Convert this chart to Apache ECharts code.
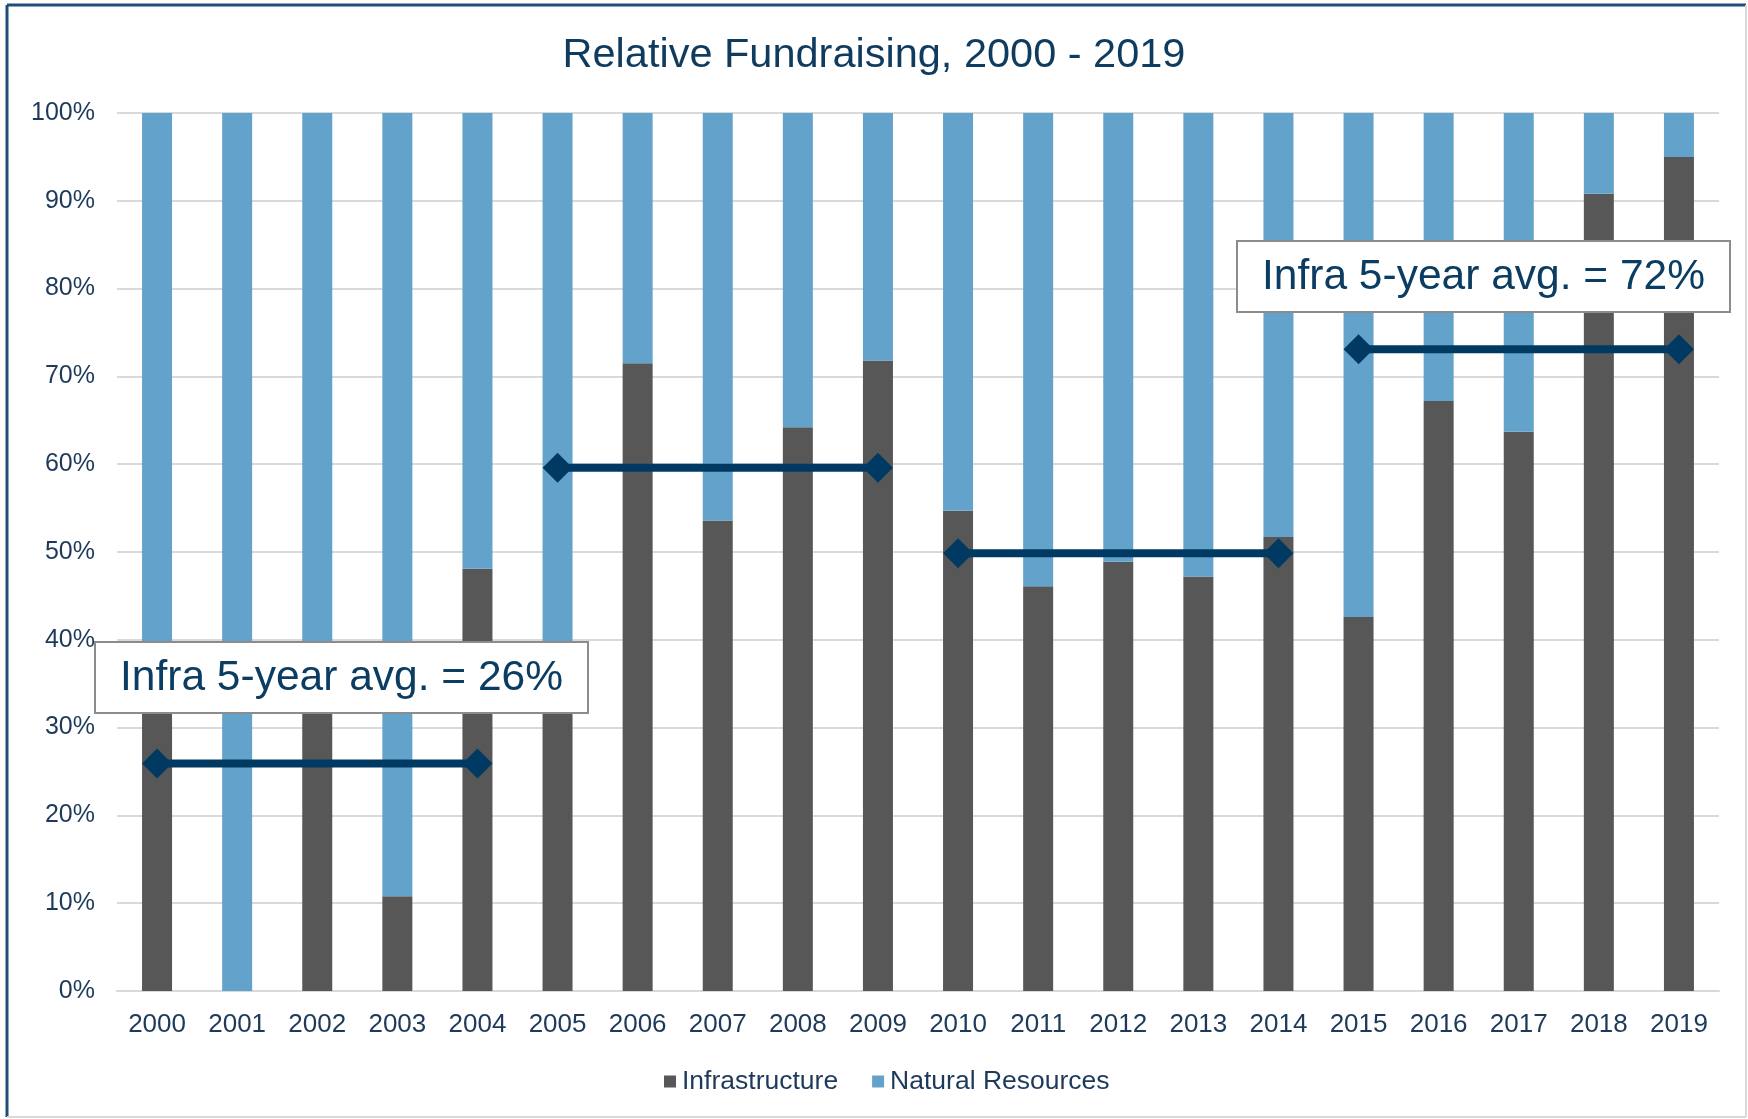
<!DOCTYPE html>
<html>
<head>
<meta charset="utf-8">
<title>Relative Fundraising, 2000 - 2019</title>
<script src="https://cdn.jsdelivr.net/npm/echarts@6/dist/echarts.min.js"></script>
<style>
    html, body {margin: 0; padding: 0; background: #fff;}
    #chart {width: 1748px; height: 1119px;}
</style>
</head>
<body>
<div id="chart"></div>
<script>
const years = ['2000', '2001', '2002', '2003', '2004', '2005', '2006', '2007', '2008', '2009',
    '2010', '2011', '2012', '2013', '2014', '2015', '2016', '2017', '2018', '2019'];
const infrastructure = [35.5, 0, 35, 10.8, 48.1, 36.9, 71.5, 53.6, 64.2, 71.8,
    54.7, 46.1, 48.9, 47.2, 51.7, 42.6, 67.2, 63.7, 90.8, 95.0];
const naturalResources = [64.5, 100, 65, 89.2, 51.9, 63.1, 28.5, 46.4, 35.8, 28.2,
    45.3, 53.9, 51.1, 52.8, 48.3, 57.4, 32.8, 36.3, 9.2, 5.0];
// 5-year averages drawn as flat segments (first year, last year, value)
const avgStart = ['2000', '2005', '2010', '2015'];
const avgEnd = ['2004', '2009', '2014', '2019'];
const avgValue = [25.9, 59.6, 49.85, 73.1];
const yTicks = [0, 10, 20, 30, 40, 50, 60, 70, 80, 90, 100];

const FONT = 'Liberation Sans, Arial, sans-serif';
const TEXT = '#1d3a5a';
const NAVY = '#003a63';

const avgSeries = avgValue.map((v, i) => ({
    name: 'avg' + i,
    type: 'line',
    data: [[avgStart[i], v], [avgEnd[i], v]],
    symbol: 'diamond',
    symbolSize: 30,
    lineStyle: {color: NAVY, width: 8},
    itemStyle: {color: NAVY},
    z: 5,
    silent: true
}));

const noteBox = (x, y, w, h, text) => ({
    type: 'group',
    children: [{
        type: 'rect',
        z: 100,
        shape: {x: x, y: y, width: w, height: h},
        style: {fill: '#fff', stroke: '#8c8c8c', lineWidth: 2}
    }, {
        type: 'text',
        z: 101,
        x: x + w / 2,
        y: y + h / 2 + 1,
        style: {
            text: text,
            fill: '#0b3d63',
            font: '42.5px ' + FONT,
            textAlign: 'center',
            textVerticalAlign: 'middle'
        }
    }]
});

const option = {
    backgroundColor: '#fff',
    animation: false,
    title: {
        text: 'Relative Fundraising, 2000 - 2019',
        left: 'center',
        top: 35,
        padding: 0,
        textStyle: {color: '#0f3b5f', fontFamily: FONT, fontSize: 41.5, fontWeight: 'normal'}
    },
    legend: {
        data: ['Infrastructure', 'Natural Resources'],
        left: 659,
        top: 1063,
        icon: 'rect',
        itemWidth: 12,
        itemHeight: 12,
        itemGap: 34,
        textStyle: {color: TEXT, fontFamily: FONT, fontSize: 26.5, padding: [0, 0, 0, 1]}
    },
    grid: {left: 117, right: 29, top: 113, bottom: 128, containLabel: false},
    xAxis: {
        type: 'category',
        data: years,
        axisTick: {show: false},
        axisLine: {lineStyle: {color: '#d9d9d9', width: 2}},
        axisLabel: {color: TEXT, fontFamily: FONT, fontSize: 26, margin: 21}
    },
    yAxis: {
        type: 'value',
        min: yTicks[0],
        max: yTicks[yTicks.length - 1],
        interval: 10,
        axisLine: {show: false},
        axisTick: {show: false},
        splitLine: {lineStyle: {color: '#d9d9d9', width: 2}},
        axisLabel: {
            color: TEXT,
            fontFamily: FONT,
            fontSize: 25,
            margin: 22,
            formatter: '{value}%'
        }
    },
    series: [{
        name: 'Infrastructure',
        type: 'bar',
        stack: 'share',
        barWidth: 30,
        data: infrastructure,
        itemStyle: {color: '#575757'}
    }, {
        name: 'Natural Resources',
        type: 'bar',
        stack: 'share',
        barWidth: 30,
        data: naturalResources,
        itemStyle: {color: '#63a3cb'}
    }].concat(avgSeries),
    graphic: [
        noteBox(95, 642, 493, 71, 'Infra 5-year avg. = 26%'),
        noteBox(1237, 241, 493, 71, 'Infra 5-year avg. = 72%'),
        // frame round the chart
        {type: 'line', z: 120, shape: {x1: 7, y1: 5, x2: 7, y2: 1117}, style: {stroke: '#1f4e79', lineWidth: 3}},
        {type: 'line', z: 120, shape: {x1: 7, y1: 5, x2: 1746, y2: 5}, style: {stroke: '#1f4e79', lineWidth: 3}},
        {type: 'line', z: 120, shape: {x1: 1746, y1: 5, x2: 1746, y2: 1117}, style: {stroke: '#d9d9d9', lineWidth: 2}},
        {type: 'line', z: 120, shape: {x1: 7, y1: 1117, x2: 1746, y2: 1117}, style: {stroke: '#d9d9d9', lineWidth: 2}}
    ]
};

const chart = echarts.init(document.getElementById('chart'));
chart.setOption(option);
window.addEventListener('resize', () => {
    chart.resize();
});
</script>
</body>
</html>
